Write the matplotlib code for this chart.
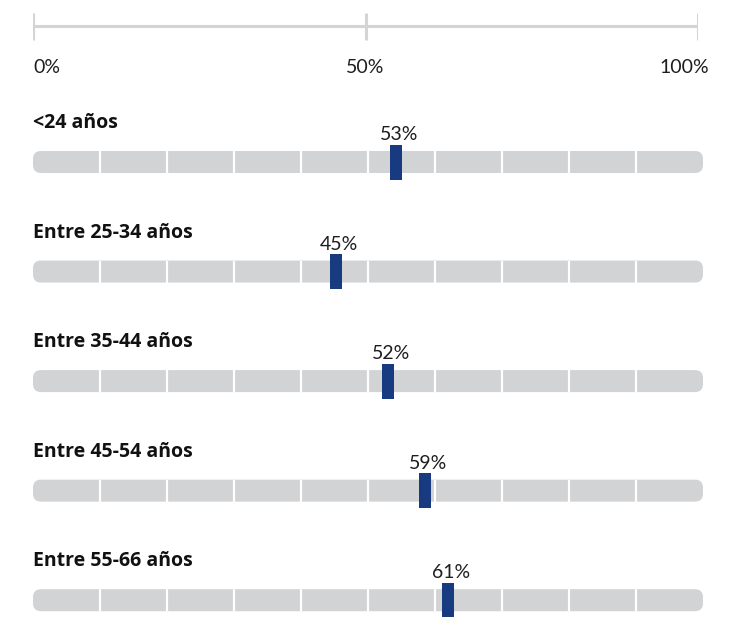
import matplotlib
matplotlib.use("Agg")
import matplotlib.pyplot as plt
from matplotlib.patches import FancyBboxPatch

# ---- data ----
categories = ["<24 años", "Entre 25-34 años", "Entre 35-44 años", "Entre 45-54 años", "Entre 55-66 años"]
marker_pos = [54.2, 45.2, 53.0, 58.5, 62.0]      # marker positions (%)
value_labels = ["53%", "45%", "52%", "59%", "61%"]
scale_ticks = [0, 50, 100]
scale_labels = ["0%", "50%", "100%"]

W, H = 740, 617
fig = plt.figure(figsize=(W / 100, H / 100), dpi=100)
fig.patch.set_facecolor("white")

TRACK = "#d2d3d5"
NAVY = "#183a80"
TXT = "#1e1e1e"
AXIS = "#d4d4d4"
num_font = "Lato"
title_font = "Open Sans"

# ---- main axes: whole figure, x maps 0 -> px 33, 100 -> px 703 ----
px_per_x = 6.7
row_gap = 109.55
first_center = 162
ax = fig.add_axes([0, 0, 1, 1])
ax.set_xlim(-33 / px_per_x, (W - 33) / px_per_x)
ax.set_ylim((H - first_center) / row_gap, -first_center / row_gap)
ax.axis("off")

track_h = 22 / row_gap
marker_h = 35 / row_gap
marker_w = 12 / px_per_x
r_px = 8
for i, (cat, v, lab) in enumerate(zip(categories, marker_pos, value_labels)):
    # rounded track
    patch = FancyBboxPatch((0, i - track_h / 2), 100, track_h,
                           boxstyle=f"round,pad=0,rounding_size={r_px / px_per_x}",
                           mutation_aspect=px_per_x / row_gap,
                           facecolor=TRACK, edgecolor="none", zorder=1)
    ax.add_patch(patch)
    # white dividers every 10%
    ax.vlines(list(range(10, 100, 10)), i - track_h / 2, i + track_h / 2,
              colors="white", linewidth=1.6, zorder=2)
    # marker
    ax.bar(v, marker_h, width=marker_w, bottom=i - marker_h / 2,
           color=NAVY, zorder=3)
    # value label
    ax.text(v + 3 / px_per_x, i - 22 / row_gap, lab, ha="center", va="baseline",
            fontsize=14, family=[num_font, "DejaVu Sans"], color=TXT, zorder=4)
    # category title
    ax.text(0, i - 34 / row_gap, cat, ha="left", va="baseline",
            fontsize=14, fontweight="bold", family=[title_font, "DejaVu Sans"],
            color="#111111")

# ---- top scale axis: 0 -> px 33, 100 -> px 698 ----
axt = fig.add_axes([33 / W, (H - 90) / H, 665 / W, 90 / H])
axt.set_xlim(0, 100)
axt.set_ylim(90, 0)
axt.axis("off")
axt.hlines(26, 0, 100, colors=AXIS, linewidth=2.2)
axt.vlines(scale_ticks, 13, 40, colors=AXIS, linewidth=2.2)
aligns = ["left", "center", "right"]
offs = [0, 0, 1.6]
for t, lab, a, o in zip(scale_ticks, scale_labels, aligns, offs):
    axt.text(t + o, 73, lab, ha=a, va="baseline", fontsize=14,
             family=[num_font, "DejaVu Sans"], color=TXT)

fig.savefig("out.png", dpi=100, facecolor="white")
